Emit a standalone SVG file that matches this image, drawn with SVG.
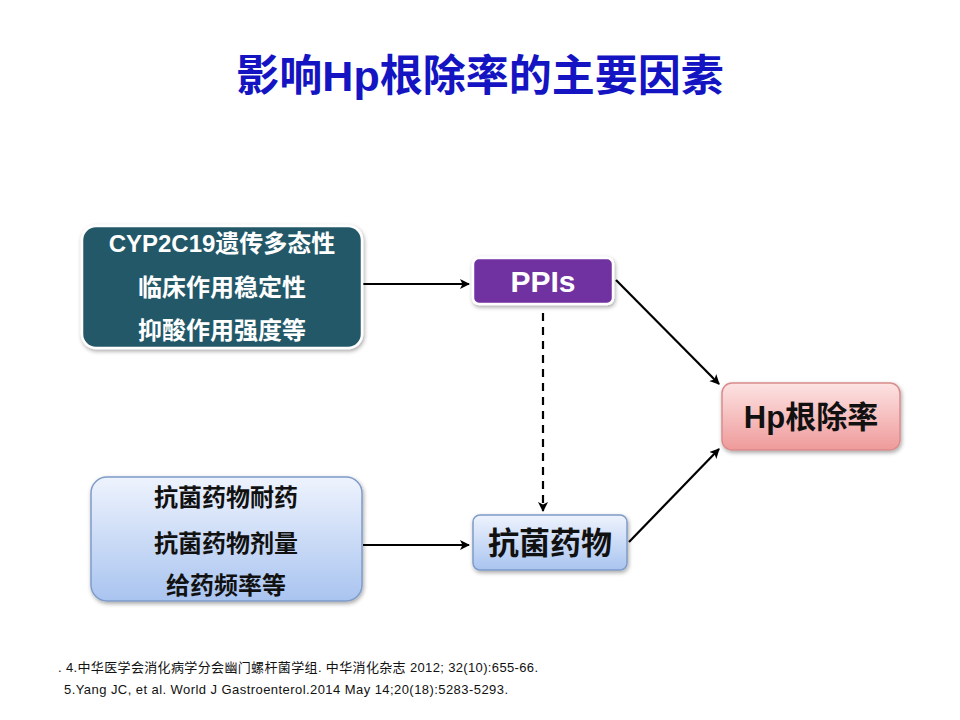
<svg xmlns="http://www.w3.org/2000/svg" width="960" height="720" viewBox="0 0 960 720">
<defs>
<style>
.cjk{font-family:"Liberation Sans","Noto Sans CJK SC",sans-serif;font-weight:bold;}
.ref{font-family:"Liberation Sans","Noto Sans CJK SC",sans-serif;font-size:13px;fill:#111;}
.conn{stroke:#000;stroke-width:2.2;fill:none;}
</style>
<marker id="ah" markerWidth="10" markerHeight="10" refX="9" refY="5" orient="auto" markerUnits="userSpaceOnUse">
<path d="M0,0 L10,5 L0,10 L2.5,5 Z" fill="#000"/>
</marker>
<linearGradient id="blue" x1="0" y1="0" x2="0" y2="1">
<stop offset="0" stop-color="#eef3fd"/>
<stop offset="1" stop-color="#a9c4f0"/>
</linearGradient>
<linearGradient id="pink" x1="0" y1="0" x2="0" y2="1">
<stop offset="0" stop-color="#fde3e3"/>
<stop offset="1" stop-color="#ef9a9a"/>
</linearGradient>
<filter id="sh" x="-10%" y="-10%" width="120%" height="130%">
<feDropShadow dx="1" dy="2" stdDeviation="2" flood-color="#000" flood-opacity="0.35"/>
</filter>
</defs>
<rect width="960" height="720" fill="#fff"/>
<text x="480" y="91" text-anchor="middle" class="cjk" font-size="43" fill="#1414c2">影响Hp根除率的主要因素</text>

<g id="connectors">
<line class="conn" x1="363" y1="284" x2="469" y2="284" marker-end="url(#ah)"/>
<line class="conn" x1="363" y1="545" x2="469" y2="545" marker-end="url(#ah)"/>
<line class="conn" x1="543" y1="313" x2="543" y2="511" stroke-dasharray="8,6" marker-end="url(#ah)"/>
<line class="conn" x1="616" y1="280" x2="719" y2="384" marker-end="url(#ah)"/>
<line class="conn" x1="629" y1="542" x2="719" y2="449" marker-end="url(#ah)"/>
</g>

<g id="node-factors1">
<rect x="82" y="226" width="280" height="122" rx="14" fill="#245868" stroke="#fff" stroke-width="2.5" filter="url(#sh)"/>
<text class="cjk" font-size="24" fill="#fff" text-anchor="middle" x="222" y="252">CYP2C19遗传多态性</text>
<text class="cjk" font-size="24" fill="#fff" text-anchor="middle" x="222" y="296">临床作用稳定性</text>
<text class="cjk" font-size="24" fill="#fff" text-anchor="middle" x="222" y="339">抑酸作用强度等</text>
</g>

<g id="node-factors2">
<rect x="91" y="477" width="271" height="124" rx="16" fill="url(#blue)" stroke="#7f9cc8" stroke-width="1.5" filter="url(#sh)"/>
<text class="cjk" font-size="24" fill="#111" text-anchor="middle" x="226" y="506">抗菌药物耐药</text>
<text class="cjk" font-size="24" fill="#111" text-anchor="middle" x="226" y="552">抗菌药物剂量</text>
<text class="cjk" font-size="24" fill="#111" text-anchor="middle" x="226" y="594">给药频率等</text>
</g>

<g id="node-ppis">
<rect x="473" y="258" width="140" height="46" rx="6" fill="#7030a0" stroke="#fff" stroke-width="2.5" filter="url(#sh)"/>
<text class="cjk" font-size="30" fill="#fff" text-anchor="middle" x="543" y="292">PPIs</text>
</g>

<g id="node-antibiotics">
<rect x="473" y="515" width="154" height="55" rx="7" fill="url(#blue)" stroke="#7f9cc8" stroke-width="1.5" filter="url(#sh)"/>
<text class="cjk" font-size="31" fill="#111" text-anchor="middle" x="550" y="554">抗菌药物</text>
</g>

<g id="node-hp">
<rect x="722" y="383" width="178" height="67" rx="10" fill="url(#pink)" stroke="#d98c8c" stroke-width="1.5" filter="url(#sh)"/>
<text class="cjk" font-size="31" fill="#111" text-anchor="middle" x="811" y="428">Hp根除率</text>
</g>

<text class="ref" x="58" y="672" textLength="480" lengthAdjust="spacing">. 4.中华医学会消化病学分会幽门螺杆菌学组. 中华消化杂志 2012; 32(10):655-66.</text>
<text class="ref" x="64" y="694" textLength="444" lengthAdjust="spacing">5.Yang JC, et al. World J Gastroenterol.2014  May 14;20(18):5283-5293.</text>
</svg>
